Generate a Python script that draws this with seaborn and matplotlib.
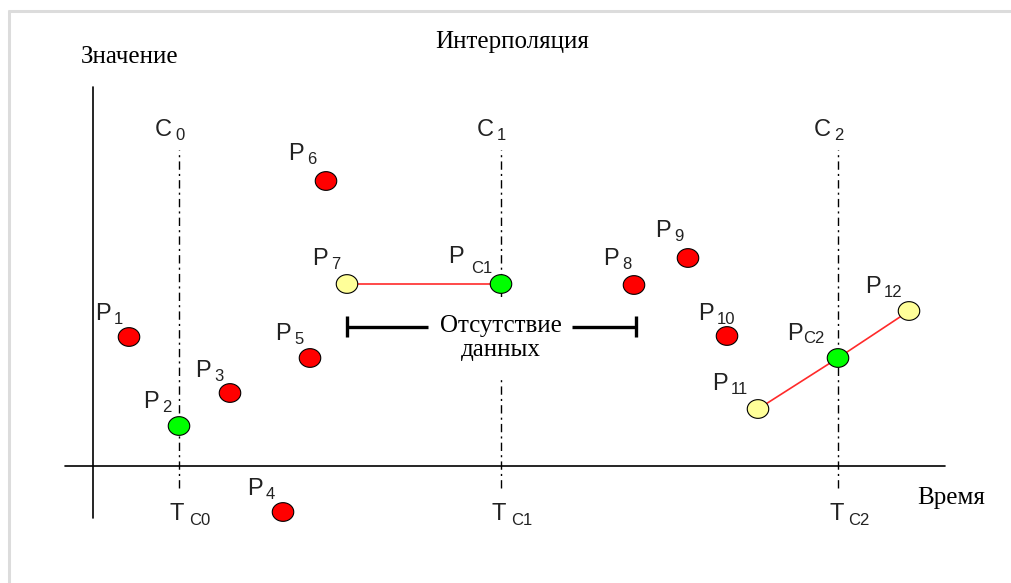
import matplotlib
matplotlib.use("Agg")
import matplotlib.pyplot as plt
from matplotlib.path import Path
import numpy as np
import pandas as pd
import seaborn as sns

# ---------------- data ----------------
point_names = ["1", "2", "3", "4", "5", "6", "7", "C1", "8", "9", "10", "11", "C2", "12"]
point_time = [36, 86, 137, 190, 217, 233, 254, 408, 541, 595, 634, 665, 745, 816]
point_value = [129, 40, 73, -46, 108, 285, 182, 182, 181, 208, 130, 57, 108, 155]
point_kind = ["sample", "control", "sample", "sample", "sample", "sample", "neighbor",
              "control", "sample", "sample", "sample", "neighbor", "control", "neighbor"]

control_names = ["0", "1", "2"]
control_time = [86, 408, 745]

interp_segments = [["7", "C1"], ["11", "C2", "12"]]

title = "Интерполяция"
y_label = "Значение"
x_label = "Время"
gap_label = "Отсутствие\nданных"

# ---------------- layout ----------------
label_dx = [-34, -36, -35, -36, -35, -38, -35, -53, -31, -33, -29, -46, -51, -44]
label_dy = [17, 18, 16, 17, 18, 21, 19, 21, 20, 21, 16, 19, 18, 18]
sub_dx = {"C1": 23, "C2": 16}
sub_dy = {"C1": -10, "C2": -3}

palette = {"sample": "#ff0000", "control": "#00ff00", "neighbor": "#ffff99"}

# slightly wide elliptical marker like the original bitmap dots
_th = np.linspace(0, 2 * np.pi, 41)
ellipse_marker = Path(np.column_stack([1.15 * np.cos(_th), np.sin(_th)]), closed=True)

sns.set_theme(style="white")
plt.rcParams["font.family"] = ["Liberation Sans", "DejaVu Sans"]
SERIF = ["Liberation Serif", "DejaVu Serif"]

fig = plt.figure(figsize=(10.11, 5.83), dpi=100)
ax = fig.add_axes([0, 0, 1, 1])
ax.set_xlim(-93, 918)
ax.set_ylim(-117, 466)
ax.axis("off")

# light frame
ax.plot([-85, 918], [455.5, 455.5], color="#dcdcdc", lw=2.2, solid_capstyle="butt", zorder=0)
ax.plot([-84.5, -84.5], [-117, 456.5], color="#dcdcdc", lw=2.2, solid_capstyle="butt", zorder=0)

# axes
ax.plot([-28, 852], [0, 0], color="black", lw=1.2, zorder=1)
ax.plot([0, 0], [-52, 379], color="black", lw=1.2, zorder=1)

# control time lines
ax.vlines(control_time, -22, 316, colors="black", lw=1.0,
          linestyles=[(0, (6, 3, 1.5, 3))], zorder=1)

SANS = 17
SUB = 12
for name, t in zip(control_names, control_time):
    ax.text(t - 24, 330, "C", fontsize=SANS, ha="left", va="baseline", color="#222222")
    ax.text(t - 4, 326, name, fontsize=SUB, ha="left", va="baseline", color="#222222")
    ax.text(t - 9, -54, "T", fontsize=SANS, ha="left", va="baseline", color="#222222")
    ax.text(t + 10, -59, "C" + name, fontsize=SUB, ha="left", va="baseline", color="#222222")

df = pd.DataFrame({"name": point_names, "time": point_time,
                   "value": point_value, "kind": point_kind})

# interpolation lines
for seg in interp_segments:
    sub = df.set_index("name").loc[seg].reset_index()
    sns.lineplot(data=sub, x="time", y="value", sort=False, color="#ff2a2a",
                 lw=1.2, ax=ax, zorder=2, legend=False)

# points
sns.scatterplot(data=df, x="time", y="value", hue="kind", palette=palette,
                marker=ellipse_marker, s=240, edgecolor="black", linewidth=0.8,
                ax=ax, zorder=4, legend=False)

# point labels
for name, t, v, dx, dy in zip(point_names, point_time, point_value, label_dx, label_dy):
    ax.text(t + dx, v + dy, "P", fontsize=SANS, ha="left", va="baseline", color="#222222")
    ax.text(t + dx + sub_dx.get(name, 19), v + dy + sub_dy.get(name, -4), name,
            fontsize=SUB, ha="left", va="baseline", color="#222222")

# titles
ax.text(342, 418, title, fontsize=18, family=SERIF, ha="left", va="baseline", color="black")
ax.text(-12, 403, y_label, fontsize=18, family=SERIF, ha="left", va="baseline", color="black")
ax.text(824, -38, x_label, fontsize=18, family=SERIF, ha="left", va="baseline", color="black")

# missing-data bracket
ax.text(408, 128, gap_label, fontsize=18, family=SERIF, ha="center", va="center",
        multialignment="center", linespacing=1.15, color="black",
        bbox=dict(boxstyle="square,pad=0.7", facecolor="white", edgecolor="none"), zorder=3)
ax.plot([254, 335], [139, 139], color="black", lw=2.4, solid_capstyle="butt", zorder=5)
ax.plot([254, 254], [129, 150], color="black", lw=2.4, solid_capstyle="butt", zorder=5)
ax.plot([479, 543], [139, 139], color="black", lw=2.4, solid_capstyle="butt", zorder=5)
ax.plot([543, 543], [129, 150], color="black", lw=2.4, solid_capstyle="butt", zorder=5)

fig.savefig("out.png", dpi=100)
